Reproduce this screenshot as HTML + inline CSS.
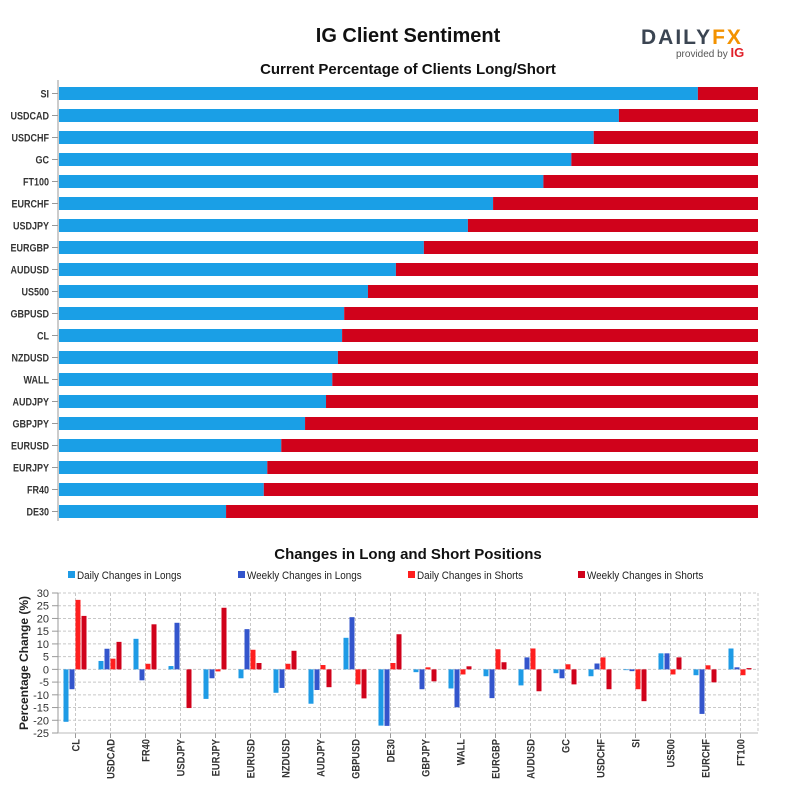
<!DOCTYPE html>
<html><head><meta charset="utf-8"><style>
body{margin:0;background:#fff;width:800px;height:800px;overflow:hidden;font-family:"Liberation Sans",sans-serif}
svg{display:block}
</style></head><body>
<svg id="c" width="800" height="800" viewBox="0 0 800 800">
<text x="408" y="42" text-anchor="middle" font-size="20" font-weight="bold" fill="#111">IG Client Sentiment</text>
<g>
<text x="641" y="44" font-size="21" font-weight="bold" fill="#3b4552" letter-spacing="2">DAILY<tspan fill="#f39200">FX</tspan></text>
<text x="676" y="57" font-size="10" fill="#555">provided by <tspan fill="#e0202a" font-weight="bold" font-size="13">IG</tspan></text>
</g>
<text x="408" y="74" text-anchor="middle" font-size="15" font-weight="bold" fill="#111">Current Percentage of Clients Long/Short</text>
<g id="topchart"></g>
<text x="408" y="559" text-anchor="middle" font-size="15" font-weight="bold" fill="#111">Changes in Long and Short Positions</text>
<g id="legend"></g>
<g id="bot"></g>
</svg>
<script>
const topCats=["SI","USDCAD","USDCHF","GC","FT100","EURCHF","USDJPY","EURGBP","AUDUSD","US500","GBPUSD","CL","NZDUSD","WALL","AUDJPY","GBPJPY","EURUSD","EURJPY","FR40","DE30"];
const longPct=[91.4,80.1,76.5,73.3,69.3,62.1,58.5,52.2,48.2,44.2,40.8,40.5,39.9,39.1,38.2,35.2,31.8,29.8,29.3,23.9];

const botCats=["CL","USDCAD","FR40","USDJPY","EURJPY","EURUSD","NZDUSD","AUDJPY","GBPUSD","DE30","GBPJPY","WALL","EURGBP","AUDUSD","GC","USDCHF","SI","US500","EURCHF","FT100"];
const dailyLongs=[-20.6,3.3,12.0,1.3,-11.6,-3.5,-9.2,-13.5,12.4,-22.1,-1.1,-7.5,-2.7,-6.3,-1.5,-2.7,-0.3,6.3,-2.3,8.2];
const weeklyLongs=[-7.8,8.1,-4.3,18.3,-3.5,15.8,-7.3,-8.1,20.5,-22.2,-7.8,-14.9,-11.3,4.7,-3.5,2.3,-0.7,6.3,-17.5,0.8];
const dailyShorts=[27.3,4.2,2.2,0,-0.8,7.7,2.2,1.7,-5.9,2.5,0.8,-2.0,7.9,8.2,2.0,4.7,-7.8,-2.0,1.6,-2.3];
const weeklyShorts=[21.0,10.8,17.7,-15.2,24.2,2.5,7.3,-7.0,-11.4,13.8,-4.7,1.2,2.8,-8.6,-5.9,-7.8,-12.5,4.7,-5.1,0.5];
const yTicks=[30,25,20,15,10,5,0,-5,-10,-15,-20,-25];
const seriesNames=["Daily Changes in Longs","Weekly Changes in Longs","Daily Changes in Shorts","Weekly Changes in Shorts"];

const NS="http://www.w3.org/2000/svg";
function mk(p,t,a,txt){const e=document.createElementNS(NS,t);for(const k in a)e.setAttribute(k,a[k]);if(txt!==undefined)e.textContent=txt;p.appendChild(e);return e;}
const LONG="#1a9fe6",SHORT="#d0021b";
const topG=document.getElementById('topchart');
const x0=59,x1=758;
const px=v=>x0+(x1-x0)*v/100;
const rowY=i=>93.5+i*22;
let ax=mk(topG,'line',{x1:58,y1:80,x2:58,y2:521,stroke:'#999'});


topCats.forEach((c,i)=>{
  const y=rowY(i);
  let t=mk(topG,'line',{x1:52,y1:y,x2:58,y2:y,stroke:'#999'});
  
  
  let l=mk(topG,'text',{x:0,y:0,transform:`translate(49,${y+4}) scale(0.82,1)`,'text-anchor':'end','font-size':11,'font-weight':'bold',fill:'#333'},c);
  
  
  let b=mk(topG,'rect',{x:x0,y:y-6.5,width:px(longPct[i])-x0,height:13,fill:LONG});
  
  
  let s=mk(topG,'rect',{x:px(longPct[i]),y:y-6.5,width:x1-px(longPct[i]),height:13,fill:SHORT});
  
  
});
const leg=document.getElementById('legend');
const cols=["#1e9be6","#3355cc","#ff1f1f","#d0021b"];
const lx=[68,238,408,578];
seriesNames.forEach((n,i)=>{
  let g=mk(leg,'g',{});
  
  
  mk(g,'rect',{x:lx[i],y:571,width:7,height:7,fill:cols[i]});
  mk(g,'text',{x:0,y:0,transform:`translate(${lx[i]+9},579) scale(0.9,1)`,'font-size':11,fill:'#222'},n);
});
const bot=document.getElementById('bot');
const bx0=58,bx1=758,yTop=593,yBot=733;
const py=v=>yTop+(30-v)*(yBot-yTop)/55;
const cw=(bx1-bx0)/botCats.length;
const cx=i=>bx0+cw*(i+0.5);
yTicks.forEach(v=>{
  let g=mk(bot,'line',{x1:bx0,y1:py(v),x2:bx1,y2:py(v),stroke:'#c8c8c8','stroke-dasharray':'3,2'});
  
  
  let t=mk(bot,'text',{x:49,y:py(v)+4,'text-anchor':'end','font-size':11,fill:'#333'},String(v));
  
  
  mk(bot,'line',{x1:52,y1:py(v),x2:58,y2:py(v),stroke:'#999'});
});
botCats.forEach((c,i)=>{
  let g=mk(bot,'line',{x1:cx(i),y1:yTop,x2:cx(i),y2:yBot,stroke:'#c8c8c8','stroke-dasharray':'3,2'});
  
  
  mk(bot,'line',{x1:cx(i),y1:yBot,x2:cx(i),y2:yBot+5,stroke:'#999'});
  let t=mk(bot,'text',{x:0,y:0,transform:`translate(${cx(i)+4},739) rotate(-90) scale(0.85,1)`,'text-anchor':'end','font-size':11,'font-weight':'bold',fill:'#333'},c);
  
  
});
mk(bot,'line',{x1:bx1,y1:yTop,x2:bx1,y2:yBot,stroke:'#c8c8c8','stroke-dasharray':'3,2'});
let ba=mk(bot,'line',{x1:bx0,y1:yTop,x2:bx0,y2:yBot,stroke:'#999'});


let bx=mk(bot,'line',{x1:bx0,y1:yBot,x2:bx1,y2:yBot,stroke:'#bbb'});


let yt=mk(bot,'text',{transform:'translate(28,663) rotate(-90)','text-anchor':'middle','font-size':12,'font-weight':'bold',fill:'#222'},'Percentage Change (%)');


const series=[dailyLongs,weeklyLongs,dailyShorts,weeklyShorts];
const bw=5,gap=1;
series.forEach((arr,s)=>{
  arr.forEach((v,i)=>{
    const x=cx(i)-12+s*(bw+gap);
    const y=Math.min(py(v),py(0));
    let r=mk(bot,'rect',{x:x,y:y,width:bw,height:Math.abs(py(v)-py(0)),fill:cols[s]});
    
    
  });
});
</script>
</body></html>
